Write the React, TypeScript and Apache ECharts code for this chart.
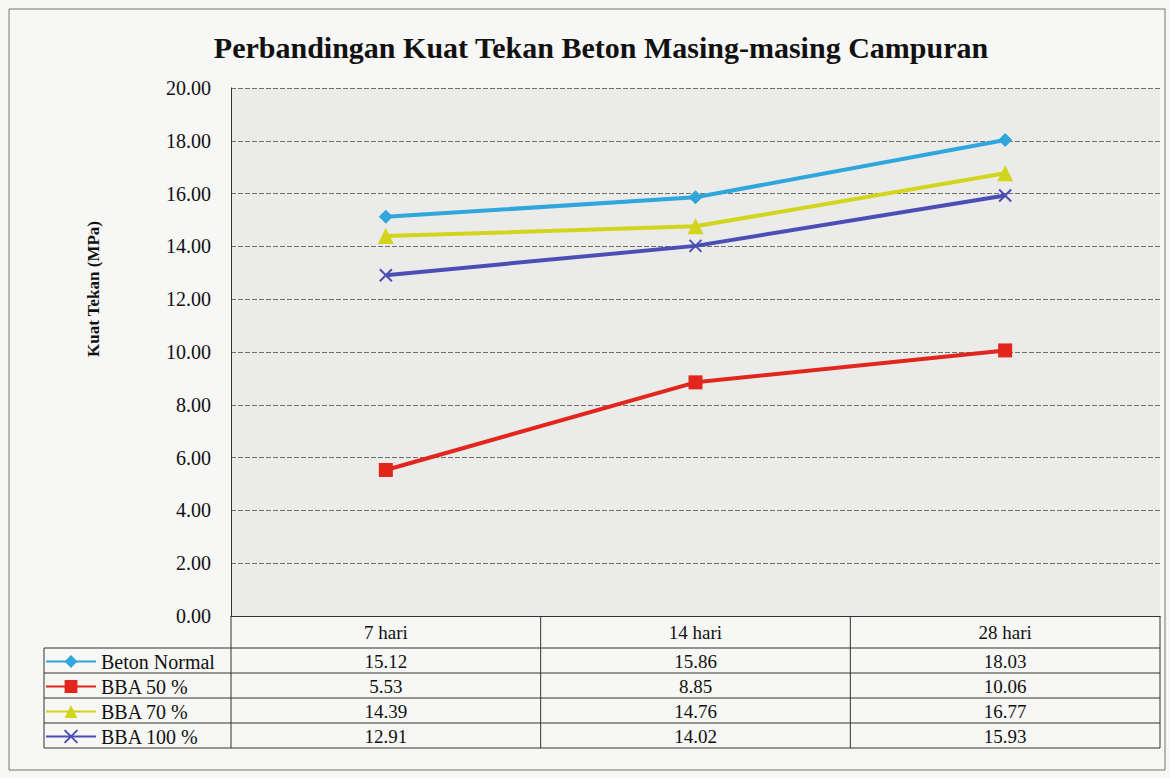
import React, { useEffect, useRef } from "react";
import * as echarts from "echarts";

const categories = ["7 hari", "14 hari", "28 hari"];
const seriesNames = ["Beton Normal", "BBA 50 %", "BBA 70 %", "BBA 100 %"];
const betonNormal = [15.12, 15.86, 18.03];
const bba50 = [5.53, 8.85, 10.06];
const bba70 = [14.39, 14.76, 16.77];
const bba100 = [12.91, 14.02, 15.93];
const seriesValues = [betonNormal, bba50, bba70, bba100];
const seriesColors = ["#2fa6dc", "#e2261d", "#d3d41c", "#4b4fb5"];
const seriesSymbols = ["diamond", "rect", "triangle", "path://M0,0L10,10M10,0L0,10"];
const titleText = "Perbandingan Kuat Tekan Beton Masing-masing Campuran";
const yAxisTitle = "Kuat Tekan (MPa)";

const FONT = "Liberation Serif, Times New Roman, serif";

export default function App() {
  const ref = useRef<HTMLDivElement>(null);
  useEffect(() => {
    const chart = echarts.init(ref.current!, null, { renderer: "svg" });
    const gridLeft = 231, gridRight = 1160, gridTop = 88, gridBottom = 616;
    const rowTop = 648, rowH = 25;
    chart.setOption({
      animation: false,
      backgroundColor: "#f7f7f5",
      title: {
        text: titleText,
        left: 596,
        textAlign: "center",
        top: 27,
        textStyle: { fontFamily: FONT, fontSize: 30, fontWeight: "bold", color: "#111" },
      },
      grid: {
        left: gridLeft,
        right: 1170 - gridRight,
        top: gridTop,
        bottom: 778 - gridBottom,
        show: true,
        backgroundColor: "#ebebea",
        borderWidth: 0,
      },
      legend: {
        orient: "vertical",
        left: 45,
        top: rowTop + 3.5,
        padding: 0,
        itemGap: 5,
        itemWidth: 50,
        itemHeight: 16,
        textStyle: { fontFamily: FONT, fontSize: 20, lineHeight: 20, color: "#111" },
        data: seriesNames,
      },
      xAxis: {
        type: "category",
        data: categories,
        boundaryGap: true,
        axisLine: { lineStyle: { color: "#333", width: 1 } },
        axisTick: { show: false },
        axisLabel: { fontFamily: FONT, fontSize: 19, color: "#111", margin: 7 },
        splitLine: { show: false },
      },
      yAxis: {
        type: "value",
        min: 0,
        max: 20,
        interval: 2,
        axisLine: { show: true, lineStyle: { color: "#333", width: 1 } },
        axisTick: { show: false },
        axisLabel: {
          fontFamily: FONT,
          fontSize: 20,
          color: "#111",
          margin: 20,
          formatter: (v: number) => v.toFixed(2),
        },
        splitLine: { lineStyle: { color: "#6e6e6e", width: 1, type: [5, 2] } },
      },
      series: seriesNames.map((name, i) => ({
        name,
        type: "line",
        data: seriesValues[i],
        symbol: seriesSymbols[i],
        symbolSize: i === 3 ? 12 : i === 2 ? 16 : 14,
        lineStyle: { color: seriesColors[i], width: 4 },
        itemStyle: i === 3
          ? { color: seriesColors[i], borderColor: seriesColors[i], borderWidth: 2 }
          : { color: seriesColors[i] },
      })),
    });

    const xs = categories.map((_, j) => chart.convertToPixel({ xAxisIndex: 0 }, j) as number);
    const cellW = (gridRight - gridLeft) / categories.length;
    const graphic: any[] = [];
    const lineStyle = { stroke: "#333", lineWidth: 1 };
    graphic.push({ type: "rect", shape: { x: 9, y: 9, width: 1156, height: 761 }, style: { fill: "none", stroke: "#777", lineWidth: 1 } });
    graphic.push({
      type: "text",
      x: 93,
      y: 289,
      rotation: Math.PI / 2,
      style: { text: yAxisTitle, fontFamily: FONT, fontSize: 17, fontWeight: "bold", fill: "#111", align: "center", verticalAlign: "middle" },
    });
    const tableBottom = rowTop + rowH * seriesNames.length;
    for (let j = 0; j <= categories.length; j++) {
      const x = gridLeft + cellW * j;
      graphic.push({ type: "line", shape: { x1: x, y1: gridBottom, x2: x, y2: tableBottom }, style: lineStyle });
    }
    graphic.push({ type: "line", shape: { x1: 44, y1: rowTop, x2: 44, y2: tableBottom }, style: lineStyle });
    for (let r = 0; r <= seriesNames.length; r++) {
      const y = rowTop + rowH * r;
      graphic.push({ type: "line", shape: { x1: 44, y1: y, x2: gridRight, y2: y }, style: lineStyle });
    }
    seriesValues.forEach((vals, r) => {
      vals.forEach((v, j) => {
        graphic.push({
          type: "text",
          x: xs[j],
          y: rowTop + rowH * r + rowH / 2 + 1,
          style: { text: v.toFixed(2), fontFamily: FONT, fontSize: 19, fill: "#111", align: "center", verticalAlign: "middle" },
        });
      });
    });
    chart.setOption({ graphic });
    return () => chart.dispose();
  }, []);
  return <div ref={ref} style={{ position: "absolute", left: 0, top: 0, width: 1170, height: 778 }} />;
}
